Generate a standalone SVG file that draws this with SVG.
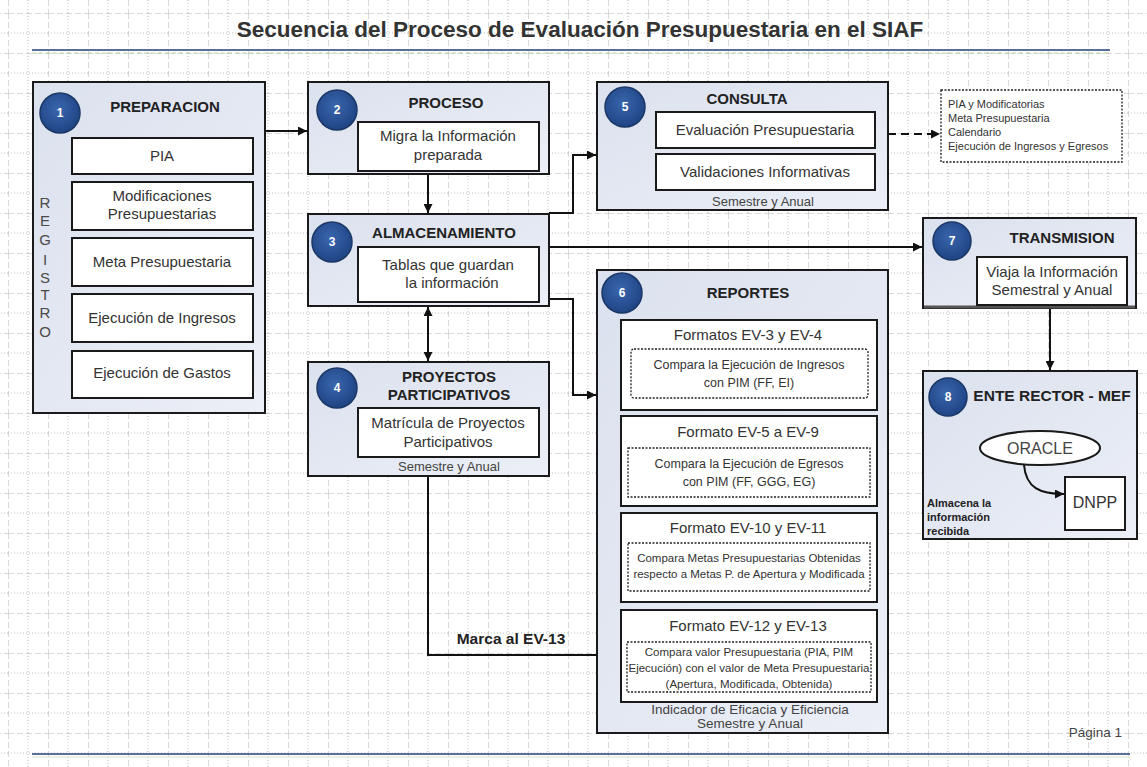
<svg xmlns="http://www.w3.org/2000/svg" width="1147" height="767" viewBox="0 0 1147 767">
<style>
.frame{fill:url(#gbox);stroke:#1a1a1a;stroke-width:2}
.inner{fill:#fff;stroke:#1a1a1a;stroke-width:2}
.dot{fill:#fff;stroke:#222;stroke-width:1.3;stroke-dasharray:2 1.5}
.num{fill:url(#gcirc);stroke:#1a3766;stroke-width:1.5}
.numt{font-family:"Liberation Sans",Arial,sans-serif;font-size:12px;font-weight:bold;fill:#fff;text-anchor:middle}
.ttl{font-family:"Liberation Sans",Arial,sans-serif;font-size:15px;font-weight:bold;fill:#222;text-anchor:middle}
.txt{font-family:"Liberation Sans",Arial,sans-serif;font-size:15px;fill:#333;text-anchor:middle}
.sm{font-family:"Liberation Sans",Arial,sans-serif;font-size:13px;fill:#444;text-anchor:middle}
.ind{font-family:"Liberation Sans",Arial,sans-serif;font-size:13.5px;fill:#444;text-anchor:middle}
.xs{font-family:"Liberation Sans",Arial,sans-serif;font-size:11.5px;fill:#333;text-anchor:middle}
.xl{font-family:"Liberation Sans",Arial,sans-serif;font-size:12.5px;fill:#333;text-anchor:middle}
.note{font-family:"Liberation Sans",Arial,sans-serif;font-size:11px;fill:#333}
.reg{font-family:"Liberation Sans",Arial,sans-serif;font-size:15px;fill:#4a4a4a;text-anchor:middle}
.conn{fill:none;stroke:#111;stroke-width:2}
</style>
<defs>
<pattern id="grid" x="8" y="13" width="40" height="40" patternUnits="userSpaceOnUse">
<line x1="0" y1="0" x2="0" y2="40" stroke="#b4b4b4" stroke-width="1" stroke-dasharray="6 3"/>
<line x1="20" y1="0" x2="20" y2="40" stroke="#c0c0c0" stroke-width="1" stroke-dasharray="1 2"/>
<line x1="0" y1="0" x2="40" y2="0" stroke="#b4b4b4" stroke-width="1" stroke-dasharray="6 3"/>
<line x1="0" y1="20" x2="40" y2="20" stroke="#c0c0c0" stroke-width="1" stroke-dasharray="1 2"/>
</pattern>
<linearGradient id="gbox" x1="0" y1="0" x2="1" y2="1">
<stop offset="0" stop-color="#dbe1ee"/>
<stop offset="1" stop-color="#eceff7"/>
</linearGradient>
<radialGradient id="gcirc" cx="0.45" cy="0.4" r="0.6">
<stop offset="0" stop-color="#3a66ad"/>
<stop offset="1" stop-color="#1f4484"/>
</radialGradient>
<marker id="ah" viewBox="0 0 10 10" refX="10" refY="5" markerWidth="12" markerHeight="9" orient="auto-start-reverse" markerUnits="userSpaceOnUse">
<path d="M0,0 L10,5 L0,10 z" fill="#111"/>
</marker>
</defs>
<rect x="0" y="0" width="1147" height="767" fill="#fff"/>
<rect x="0" y="0" width="1147" height="767" fill="url(#grid)"/>

<g id="header">
<text x="580" y="37" font-family="'Liberation Sans',Arial,sans-serif" font-size="22.5" font-weight="bold" fill="#333" text-anchor="middle">Secuencia del Proceso de Evaluación Presupuestaria en el SIAF</text>
<line x1="32" y1="50" x2="1110" y2="50" stroke="#5b6f9c" stroke-width="2"/>
<line x1="32" y1="53" x2="1110" y2="53" stroke="#b5d69a" stroke-width="1" stroke-dasharray="4 3"/>
<line x1="32" y1="754" x2="1130" y2="754" stroke="#5b6f9c" stroke-width="2"/>
<line x1="32" y1="757" x2="1130" y2="757" stroke="#d6e8c6" stroke-width="1"/>
<text x="1122" y="737" font-family="'Liberation Sans',Arial,sans-serif" font-size="13.5" fill="#444" text-anchor="end">Página 1</text>
</g>

<g id="connectors">
<path class="conn" d="M265,131 H307" marker-end="url(#ah)"/>
<path class="conn" d="M428,174 V213" marker-end="url(#ah)"/>
<path class="conn" d="M428,307 V361" marker-start="url(#ah)" marker-end="url(#ah)"/>
<path class="conn" d="M549,213 H573 V155 H596" marker-end="url(#ah)"/>
<path class="conn" d="M549,299 H573 V395 H596" marker-end="url(#ah)"/>
<path class="conn" d="M549,247 H922" marker-end="url(#ah)"/>
<path class="conn" d="M875,134 H940" stroke-dasharray="8 5" marker-end="url(#ah)"/>
<path class="conn" d="M1050,309 V370" marker-end="url(#ah)"/>
<path class="conn" d="M428,476 V655 H620" marker-end="url(#ah)"/>
<text x="511" y="644" font-family="'Liberation Sans',Arial,sans-serif" font-size="15.5" font-weight="bold" fill="#222" text-anchor="middle">Marca al EV-13</text>
</g>

<g id="node1">
<rect class="frame" x="33" y="82" width="232" height="331"/>
<circle class="num" cx="60" cy="113" r="20"/>
<text class="numt" x="60" y="117">1</text>
<text class="ttl" x="165" y="112">PREPARACION</text>
<text class="reg" x="45" y="208">R</text>
<text class="reg" x="45" y="226">E</text>
<text class="reg" x="45" y="245">G</text>
<text class="reg" x="45" y="265">I</text>
<text class="reg" x="45" y="283">S</text>
<text class="reg" x="45" y="300">T</text>
<text class="reg" x="45" y="318">R</text>
<text class="reg" x="45" y="337">O</text>
<rect class="inner" x="72" y="138" width="181" height="36"/>
<text class="txt" x="162" y="161">PIA</text>
<rect class="inner" x="72" y="182" width="181" height="48"/>
<text class="txt" x="162" y="201">Modificaciones</text>
<text class="txt" x="162" y="219">Presupuestarias</text>
<rect class="inner" x="72" y="238" width="181" height="48"/>
<text class="txt" x="162" y="267">Meta Presupuestaria</text>
<rect class="inner" x="72" y="294" width="181" height="48"/>
<text class="txt" x="162" y="323">Ejecución de Ingresos</text>
<rect class="inner" x="72" y="351" width="181" height="47"/>
<text class="txt" x="162" y="378">Ejecución de Gastos</text>
</g>

<g id="node2">
<rect class="frame" x="308" y="82" width="241" height="92"/>
<circle class="num" cx="337" cy="110" r="20"/>
<text class="numt" x="337" y="114">2</text>
<text class="ttl" x="446" y="108">PROCESO</text>
<rect class="inner" x="358" y="122" width="181" height="49"/>
<text class="txt" x="448" y="141">Migra la Información</text>
<text class="txt" x="448" y="160">preparada</text>
</g>

<g id="node3">
<rect class="frame" x="308" y="214" width="241" height="92"/>
<circle class="num" cx="332" cy="242" r="20"/>
<text class="numt" x="332" y="246">3</text>
<text class="ttl" x="444" y="238">ALMACENAMIENTO</text>
<rect class="inner" x="358" y="247" width="181" height="55"/>
<text class="txt" x="448" y="270">Tablas que guardan</text>
<text class="txt" x="452" y="288">la información</text>
</g>

<g id="node4">
<rect class="frame" x="308" y="362" width="241" height="114"/>
<circle class="num" cx="337" cy="388" r="20"/>
<text class="numt" x="337" y="392">4</text>
<text class="ttl" x="449" y="382">PROYECTOS</text>
<text class="ttl" x="449" y="400">PARTICIPATIVOS</text>
<rect class="inner" x="358" y="408" width="181" height="49"/>
<text class="txt" x="448" y="428">Matrícula de Proyectos</text>
<text class="txt" x="448" y="447">Participativos</text>
<text class="sm" x="449" y="471">Semestre y Anual</text>
</g>

<g id="node5">
<rect class="frame" x="597" y="82" width="291" height="128"/>
<circle class="num" cx="625" cy="107" r="20"/>
<text class="numt" x="625" y="111">5</text>
<text class="ttl" x="747" y="104">CONSULTA</text>
<rect class="inner" x="656" y="112" width="219" height="36"/>
<text class="txt" x="765" y="135">Evaluación Presupuestaria</text>
<rect class="inner" x="656" y="154" width="219" height="36"/>
<text class="txt" x="765" y="177">Validaciones Informativas</text>
<text class="sm" x="763" y="206">Semestre y Anual</text>
</g>

<g id="note5">
<rect x="941" y="90" width="181" height="72" fill="#fff" stroke="#222" stroke-width="1.3" stroke-dasharray="2 1.5"/>
<text class="note" x="948" y="108">PIA y Modificatorias</text>
<text class="note" x="948" y="122">Meta Presupuestaria</text>
<text class="note" x="948" y="136">Calendario</text>
<text class="note" x="948" y="150">Ejecución de Ingresos y Egresos</text>
</g>

<g id="node6">
<rect class="frame" x="597" y="270" width="291" height="463"/>
<circle class="num" cx="622" cy="293" r="20"/>
<text class="numt" x="622" y="297">6</text>
<text class="ttl" x="748" y="298">REPORTES</text>
<rect class="inner" x="621" y="320" width="256" height="90"/>
<text class="txt" x="748" y="340">Formatos EV-3 y EV-4</text>
<rect class="dot" x="631" y="349" width="237" height="49" rx="3"/>
<text class="xl" x="749" y="369">Compara la Ejecución de Ingresos</text>
<text class="xl" x="749" y="387">con PIM (FF, EI)</text>
<rect class="inner" x="621" y="416" width="256" height="90"/>
<text class="txt" x="748" y="437">Formato EV-5 a EV-9</text>
<rect class="dot" x="628" y="448" width="242" height="49"/>
<text class="xl" x="749" y="468">Compara la Ejecución de Egresos</text>
<text class="xl" x="749" y="486">con PIM (FF, GGG, EG)</text>
<rect class="inner" x="621" y="513" width="256" height="89"/>
<text class="txt" x="748" y="533">Formato EV-10 y EV-11</text>
<rect class="dot" x="628" y="543" width="242" height="48"/>
<text class="xs" x="749" y="562">Compara Metas Presupuestarias Obtenidas</text>
<text class="xs" x="749" y="578">respecto a Metas P. de Apertura y Modificada</text>
<rect class="inner" x="621" y="610" width="256" height="92"/>
<text class="txt" x="748" y="631">Formato EV-12 y EV-13</text>
<rect class="dot" x="627" y="642" width="244" height="50"/>
<text class="xs" x="749" y="656">Compara valor Presupuestaria (PIA, PIM</text>
<text class="xs" x="749" y="672">Ejecución) con el valor de Meta Presupuestaria</text>
<text class="xs" x="749" y="688">(Apertura, Modificada, Obtenida)</text>
<text class="ind" x="750" y="714">Indicador de Eficacia y Eficiencia</text>
<text class="ind" x="750" y="728">Semestre y Anual</text>
</g>

<g id="node7">
<rect class="frame" x="923" y="218" width="213" height="90"/>
<line x1="924" y1="307" x2="1135" y2="307" stroke="#555" stroke-width="3"/>
<circle class="num" cx="952" cy="241" r="19"/>
<text class="numt" x="952" y="245">7</text>
<text class="ttl" x="1062" y="243">TRANSMISION</text>
<rect class="inner" x="977" y="257" width="150" height="48"/>
<text class="txt" x="1052" y="277">Viaja la Información</text>
<text class="txt" x="1052" y="295">Semestral y Anual</text>
</g>

<g id="node8">
<rect class="frame" x="923" y="371" width="214" height="168"/>
<circle class="num" cx="948" cy="397" r="19"/>
<text class="numt" x="948" y="401">8</text>
<text x="1052" y="401" font-family="'Liberation Sans',Arial,sans-serif" font-size="15.5" font-weight="bold" fill="#222" text-anchor="middle">ENTE RECTOR - MEF</text>
<ellipse cx="1040" cy="448" rx="60" ry="17" fill="#fff" stroke="#1a1a1a" stroke-width="2"/>
<text x="1040" y="454" font-family="'Liberation Sans',Arial,sans-serif" font-size="16" fill="#444" text-anchor="middle">ORACLE</text>
<rect class="inner" x="1065" y="477" width="60" height="53"/>
<text x="1095" y="508" font-family="'Liberation Sans',Arial,sans-serif" font-size="16" fill="#333" text-anchor="middle">DNPP</text>
<path class="conn" d="M1024,465 C1026,488 1040,494 1064,494" marker-end="url(#ah)"/>
<text x="927" y="507" font-family="'Liberation Sans',Arial,sans-serif" font-size="11" font-weight="bold" fill="#222">Almacena la</text>
<text x="927" y="521" font-family="'Liberation Sans',Arial,sans-serif" font-size="11" font-weight="bold" fill="#222">información</text>
<text x="927" y="535" font-family="'Liberation Sans',Arial,sans-serif" font-size="11" font-weight="bold" fill="#222">recibida</text>
</g>
</svg>
